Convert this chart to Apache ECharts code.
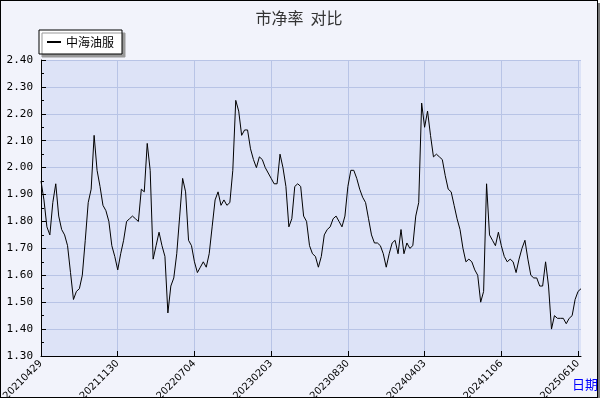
<!DOCTYPE html>
<html><head><meta charset="utf-8">
<script src="https://cdn.jsdelivr.net/npm/echarts@6/dist/echarts.min.js"></script>
<style>html,body{margin:0;padding:0;background:#fff}
#c{width:596px;height:396px;border:1px solid #000;box-shadow:3px 3px 0 #777;background:#f2f3fb}</style>
</head><body><div id="c"></div>
<script>
const tickLabels=['20210429','20211130','20220704','20230203','20230830','20240403','20241106','20250610'];
const pb=[1.95,1.88,1.78,1.75,1.87,1.94,1.82,1.77,1.75,1.71,1.61,1.51,1.54,1.55,1.60,1.73,1.87,1.92,2.12,1.99,
1.93,1.86,1.84,1.80,1.71,1.67,1.62,1.68,1.73,1.80,1.81,1.82,1.81,1.80,1.92,1.91,2.09,1.99,1.66,1.71,
1.76,1.71,1.67,1.46,1.56,1.59,1.68,1.82,1.96,1.91,1.73,1.71,1.65,1.61,1.63,1.65,1.63,1.68,1.78,1.88,
1.91,1.86,1.88,1.86,1.87,1.99,2.25,2.21,2.12,2.14,2.14,2.07,2.03,2.00,2.04,2.03,2.00,1.98,1.96,1.94,
1.94,2.05,2.00,1.93,1.78,1.81,1.93,1.94,1.93,1.82,1.80,1.71,1.68,1.67,1.63,1.67,1.75,1.77,1.78,1.81,
1.82,1.80,1.78,1.82,1.93,1.99,1.99,1.96,1.92,1.89,1.87,1.81,1.75,1.72,1.72,1.71,1.68,1.63,1.68,1.72,
1.73,1.68,1.77,1.68,1.72,1.70,1.71,1.82,1.87,2.24,2.15,2.21,2.12,2.04,2.05,2.04,2.03,1.97,1.92,1.91,
1.86,1.81,1.77,1.70,1.65,1.66,1.65,1.62,1.60,1.50,1.54,1.94,1.75,1.73,1.71,1.76,1.71,1.67,1.65,1.66,
1.65,1.61,1.66,1.70,1.73,1.66,1.60,1.59,1.59,1.56,1.56,1.65,1.56,1.40,1.45,1.44,1.44,1.44,1.42,1.44,
1.45,1.51,1.54,1.55];
const step=26;
const cats=pb.map((v,i)=>String(i));
const chart=echarts.init(document.getElementById('c'));
chart.setOption({
  animation:false,
  title:{text:'市净率  对比',left:'center',top:4,textStyle:{fontSize:16,fontWeight:'normal',color:'#333',fontFamily:'Noto Sans CJK SC'}},
  legend:{left:38,top:29,itemWidth:14,itemHeight:2,padding:[6,8],backgroundColor:'#fff',borderColor:'#000',borderWidth:1,
    shadowColor:'#999',shadowOffsetX:3,shadowOffsetY:3,shadowBlur:0,icon:'rect',
    textStyle:{fontSize:12,color:'#000',fontFamily:'Noto Sans CJK SC'},data:['中海油服']},
  grid:{left:40,right:16,top:59,bottom:41,show:true,backgroundColor:'#dde3f7',borderWidth:0,containLabel:false,outerBoundsMode:'none'},
  xAxis:{type:'category',data:cats,boundaryGap:false,name:'日期',nameLocation:'end',nameGap:-10,
    nameTextStyle:{color:'#0000ff',fontSize:13,verticalAlign:'top',padding:[22,0,0,0],fontFamily:'Noto Sans CJK SC'},
    axisLine:{lineStyle:{color:'#000'}},
    axisTick:{alignWithLabel:true,interval:(i)=>i%step===0,inside:true,length:5,lineStyle:{color:'#000'}},
    splitLine:{show:true,interval:(i)=>i%step===0,lineStyle:{color:'#b8c4e6'}},
    axisLabel:{interval:(i)=>i%step===0,rotate:45,hideOverlap:false,fontSize:10,color:'#000',margin:6,fontFamily:'DejaVu Sans',
      formatter:(v,i)=>tickLabels[Math.round(i/step)]||''}},
  yAxis:{type:'value',min:1.3,max:2.4,interval:0.1,
    axisLine:{show:true,lineStyle:{color:'#000'}},
    axisTick:{show:true,inside:true,length:5,lineStyle:{color:'#000'}},
    minorTick:{show:true,splitNumber:2,length:3,lineStyle:{color:'#000'}},
    splitLine:{lineStyle:{color:'#b8c4e6'}},
    axisLabel:{fontSize:11,color:'#000',fontFamily:'DejaVu Sans Mono',formatter:v=>v.toFixed(2)}},
  series:[{name:'中海油服',type:'line',data:pb,showSymbol:false,lineStyle:{color:'#000',width:1},itemStyle:{color:'#000'}}]
});
</script></body></html>
